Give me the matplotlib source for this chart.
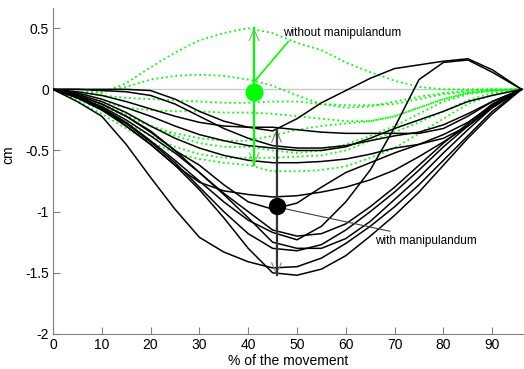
import matplotlib
matplotlib.use('Agg')
import matplotlib.pyplot as plt

plt.rcParams['font.family'] = ['Liberation Sans', 'DejaVu Sans']

# common sample points (% of the movement)
xs = [0, 5, 10, 15, 20, 25, 30, 35, 40, 45, 50, 55, 60, 65, 70, 75, 80, 85, 90, 96]

# with manipulandum (black)
k1 = [0, 0.0, 0.0, 0.0, -0.01, -0.08, -0.18, -0.26, -0.31, -0.34, -0.24, -0.11, -0.01, 0.09, 0.17, 0.2, 0.23, 0.25, 0.16, 0]
k2 = [0, 0.0, -0.01, -0.02, -0.05, -0.12, -0.22, -0.32, -0.4, -0.46, -0.48, -0.48, -0.46, -0.42, -0.38, -0.35, -0.29, -0.2, -0.1, 0]
k3 = [0, -0.03, -0.08, -0.15, -0.22, -0.3, -0.37, -0.42, -0.46, -0.48, -0.5, -0.5, -0.47, -0.4, -0.32, -0.25, -0.18, -0.1, -0.05, 0]
k4 = [0, -0.04, -0.1, -0.19, -0.3, -0.4, -0.48, -0.54, -0.58, -0.6, -0.6, -0.59, -0.57, -0.53, -0.48, -0.45, -0.4, -0.3, -0.15, 0]
k5 = [0, -0.06, -0.15, -0.3, -0.45, -0.62, -0.76, -0.83, -0.86, -0.88, -0.87, -0.84, -0.8, -0.74, -0.66, -0.55, -0.43, -0.3, -0.14, 0]
k6 = [0, -0.05, -0.12, -0.22, -0.35, -0.5, -0.62, -0.78, -0.92, -0.98, -0.93, -0.8, -0.68, -0.6, -0.52, -0.45, -0.37, -0.27, -0.13, 0]
k7 = [0, -0.06, -0.15, -0.27, -0.42, -0.58, -0.75, -0.92, -1.07, -1.17, -1.23, -1.12, -0.92, -0.66, -0.31, 0.08, 0.22, 0.24, 0.14, 0]
k8 = [0, -0.06, -0.14, -0.25, -0.38, -0.52, -0.68, -0.86, -1.05, -1.25, -1.3, -1.3, -1.22, -1.08, -0.9, -0.72, -0.52, -0.33, -0.15, 0]
k9 = [0, -0.07, -0.16, -0.28, -0.43, -0.6, -0.8, -1.0, -1.18, -1.3, -1.32, -1.27, -1.15, -1.0, -0.84, -0.66, -0.47, -0.3, -0.13, 0]
k10 = [0, -0.1, -0.22, -0.45, -0.72, -0.98, -1.21, -1.33, -1.41, -1.46, -1.45, -1.38, -1.26, -1.12, -0.96, -0.78, -0.58, -0.38, -0.18, 0]
k11 = [0, -0.07, -0.17, -0.3, -0.45, -0.62, -0.82, -1.05, -1.3, -1.5, -1.52, -1.47, -1.36, -1.2, -1.03, -0.84, -0.62, -0.4, -0.2, 0]
k12 = [0, -0.02, -0.05, -0.1, -0.16, -0.22, -0.27, -0.3, -0.31, -0.31, -0.33, -0.35, -0.36, -0.36, -0.36, -0.36, -0.32, -0.22, -0.1, 0]
k13 = [0, -0.05, -0.12, -0.22, -0.34, -0.5, -0.68, -0.85, -1.0, -1.15, -1.2, -1.18, -1.1, -0.96, -0.8, -0.62, -0.44, -0.28, -0.12, 0]
black_curves = [k1, k2, k3, k4, k5, k6, k7, k8, k9, k10, k11, k12, k13]

# without manipulandum (green dotted)
g1 = [0, -0.02, -0.03, 0.05, 0.18, 0.3, 0.4, 0.46, 0.5, 0.46, 0.38, 0.32, 0.22, 0.14, 0.07, 0.02, 0.0, 0.0, 0.0, 0]
g2 = [0, -0.02, -0.02, 0.02, 0.08, 0.11, 0.12, 0.11, 0.08, 0.03, -0.05, -0.12, -0.15, -0.14, -0.1, -0.06, -0.03, -0.01, 0.0, 0]
g3 = [0, -0.03, -0.05, -0.07, -0.08, -0.09, -0.1, -0.11, -0.11, -0.1, -0.1, -0.12, -0.13, -0.13, -0.12, -0.08, -0.04, -0.02, -0.01, 0]
g4 = [0, -0.05, -0.1, -0.15, -0.17, -0.18, -0.18, -0.19, -0.19, -0.2, -0.22, -0.24, -0.26, -0.26, -0.22, -0.15, -0.08, -0.03, -0.01, 0]
g5 = [0, -0.06, -0.14, -0.22, -0.3, -0.36, -0.4, -0.42, -0.42, -0.38, -0.33, -0.3, -0.28, -0.26, -0.22, -0.15, -0.08, -0.03, -0.01, 0]
g6 = [0, -0.05, -0.12, -0.2, -0.3, -0.38, -0.44, -0.47, -0.47, -0.5, -0.52, -0.5, -0.45, -0.38, -0.3, -0.2, -0.1, -0.04, -0.01, 0]
g7 = [0, -0.08, -0.17, -0.27, -0.38, -0.47, -0.53, -0.56, -0.56, -0.56, -0.55, -0.54, -0.5, -0.42, -0.35, -0.27, -0.18, -0.09, -0.03, 0]
g8 = [0, -0.1, -0.2, -0.32, -0.43, -0.52, -0.57, -0.6, -0.62, -0.67, -0.67, -0.66, -0.63, -0.56, -0.48, -0.36, -0.24, -0.12, -0.04, 0]
green_curves = [g1, g2, g3, g4, g5, g6, g7, g8]

# mean points and ranges
green_dot = (41.2, -0.02)
green_range = (-0.62, 0.5)
black_dot = (45.8, -0.95)
black_range = (-1.52, -0.33)

xticks = [0, 10, 20, 30, 40, 50, 60, 70, 80, 90]
yticks = [-2, -1.5, -1, -0.5, 0, 0.5]
ytick_labels = ['-2', '-1.5', '-1', '-0.5', '0', '0.5']

fig = plt.figure(figsize=(5.24, 3.69), dpi=100)
ax = fig.add_axes([0.101, 0.095, 0.899, 0.883])

ax.axhline(0, color='#c8c8c8', lw=1, zorder=1)

for c in green_curves:
    ax.plot(xs, c, color='#00ff00', ls=':', lw=1.3, zorder=2)
for c in black_curves:
    ax.plot(xs, c, color='black', lw=1.1, zorder=3)

# green range arrow
gx = green_dot[0]
ax.annotate('', xy=(gx, green_range[1]), xytext=(gx, green_range[0]),
            arrowprops=dict(arrowstyle='<->,head_length=0.8,head_width=0.35', color='#80b080',
                            lw=0.8, shrinkA=0, shrinkB=0), zorder=4)
ax.plot([gx, gx], green_range, color='#00ff00', lw=1.6, zorder=4)
ax.plot(*green_dot, 'o', color='#00ff00', ms=12, zorder=5)

# black range arrow
bx = black_dot[0]
ax.annotate('', xy=(bx, black_range[1]), xytext=(bx, black_range[0]),
            arrowprops=dict(arrowstyle='<->,head_length=0.8,head_width=0.35', color='#808080',
                            lw=0.8, shrinkA=0, shrinkB=0), zorder=4)
ax.plot([bx, bx], black_range, color='#333333', lw=1.6, zorder=4)
ax.plot(*black_dot, 'o', color='black', ms=11.5, zorder=5)

# labels with pointer lines
ax.plot([gx, 48.2], [green_dot[1] + 0.08, 0.39], color='#00ff00', lw=1.2, zorder=4)
ax.text(47.1, 0.46, 'without manipulandum', fontsize=8.5, va='center', ha='left')
ax.plot([bx + 1, 69], [black_dot[1] - 0.02, -1.16], color='#404040', lw=0.8, zorder=4)
ax.text(66, -1.24, 'with manipulandum', fontsize=8.5, va='center', ha='left')

ax.set_xlim(0, 96.5)
ax.set_ylim(-2, 0.664)
ax.set_xticks(xticks)
ax.set_yticks(yticks)
ax.set_yticklabels(ytick_labels)
ax.tick_params(direction='in', length=5, color='#808080', labelsize=10, pad=3)
for s in ['top', 'right']:
    ax.spines[s].set_visible(False)
for s in ['left', 'bottom']:
    ax.spines[s].set_color('#808080')
ax.set_xlabel('% of the movement', fontsize=10, labelpad=1)
ax.set_ylabel('cm', fontsize=10, labelpad=4)
ax.yaxis.set_label_coords(-0.08, 0.55)

fig.savefig('out.png', dpi=100)
